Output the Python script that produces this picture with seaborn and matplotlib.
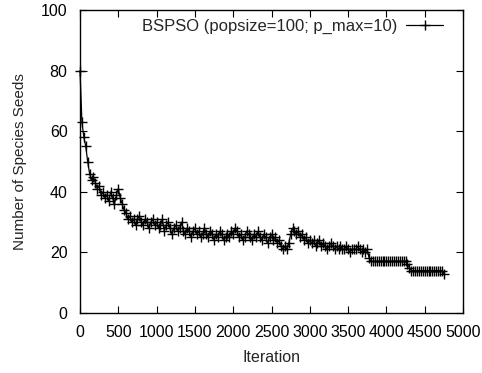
import numpy as np
import pandas as pd
import matplotlib
matplotlib.use("Agg")
import matplotlib.pyplot as plt
import seaborn as sns

# values, one point every 25 iterations
iterations = list(range(0, 4751, 25))
seeds = [
    80, 63, 58, 55, 50, 46, 44, 45, 43, 41, 42, 39, 40, 38, 39, 37, 40, 38, 36, 39,
    41, 38, 36, 34, 33, 31, 32, 30, 31, 29, 31, 32, 30, 29, 31, 30, 28, 30, 31, 29,
    30, 28, 29, 31, 27, 29, 30, 28, 26, 28, 29, 27, 28, 30, 27, 26, 28, 27, 25, 27,
    28, 26, 27, 25, 26, 28, 26, 25, 27, 26, 24, 26, 25, 27, 26, 24, 25, 26, 25, 27,
    26, 28, 27, 25, 26, 24, 25, 27, 26, 25, 24, 26, 25, 27, 25, 24, 26, 25, 23, 25,
    26, 24, 25, 23, 24, 22, 21, 22, 21, 23, 26, 28, 27, 26, 27, 25, 26, 24, 25, 23,
    24, 23, 24, 22, 23, 24, 22, 23, 22, 21, 22, 23, 22, 21, 22, 21, 22, 21, 21, 22,
    21, 20, 21, 21, 21, 22, 21, 20, 21, 20, 21, 18, 17, 17, 17, 17, 17, 17, 17, 17,
    17, 17, 17, 17, 17, 17, 17, 17, 17, 17, 17, 16, 15, 14, 14, 14, 14, 14, 14, 14,
    14, 14, 14, 14, 14, 14, 14, 14, 14, 14, 13,
]
series_name = "BSPSO (popsize=100; p_max=10)"
x_ticks = list(range(0, 5001, 500))
y_ticks = list(range(0, 101, 20))

df = pd.DataFrame({"Iteration": iterations, "Seeds": seeds})

sns.set_style("ticks")
plt.rcParams["font.family"] = ["Liberation Sans", "DejaVu Sans"]

fig = plt.figure(figsize=(4.82, 3.73), dpi=100)
ax = fig.add_axes([0.166, 0.161, 0.7946, 0.812])

sns.lineplot(data=df, x="Iteration", y="Seeds", ax=ax, color="black",
             linewidth=0.9, marker="+", markersize=7.5, markeredgewidth=1.0,
             markeredgecolor="black", label=series_name, clip_on=False)

ax.set_xlim(0, 5000)
ax.set_ylim(0, 100)
ax.set_xticks(x_ticks)
ax.set_yticks(y_ticks)
ax.tick_params(direction="in", length=5, width=0.8, top=True, right=True,
               labelsize=11.5, colors="black", pad=9)
for s in ax.spines.values():
    s.set_linewidth(1.0)
    s.set_color("black")
ax.set_xlabel("Iteration", fontsize=11.5, labelpad=7)
ax.set_ylabel("Number of Species Seeds", fontsize=11, labelpad=10)

ax.legend(loc="upper right", frameon=False, markerfirst=False,
          handlelength=2.2, handletextpad=0.55, fontsize=12,
          borderaxespad=0, borderpad=0, bbox_to_anchor=(0.948, 0.972))

fig.savefig("out.png", dpi=100)
